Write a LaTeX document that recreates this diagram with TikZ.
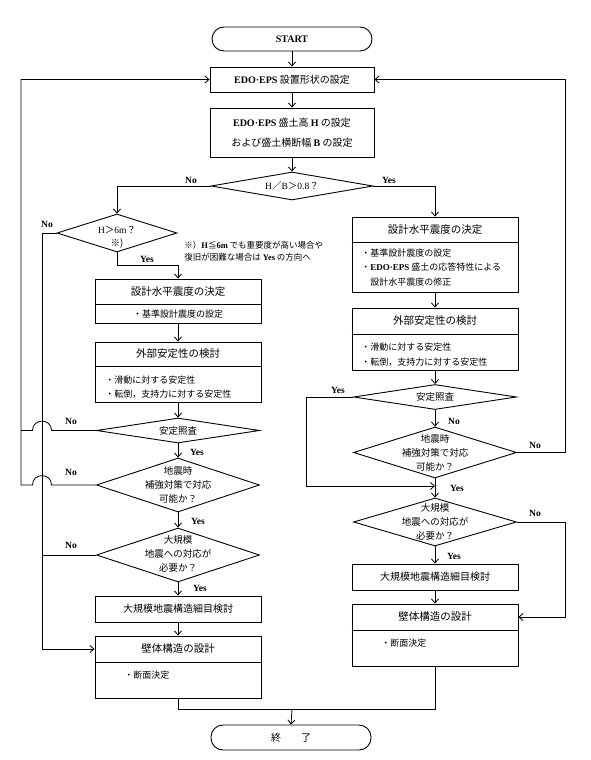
\documentclass[tikz,border=0pt]{standalone}
\usepackage{fontspec}
\setmainfont{Noto Sans CJK JP}
\newfontfamily\lat{Liberation Serif}
\usetikzlibrary{arrows.meta,shapes.geometric}
\begin{document}
\begin{tikzpicture}[x=1pt,y=-1pt,
 line width=0.8pt,
 box/.style={draw, rectangle, inner sep=0pt, line width=0.9pt, font=\fontsize{10}{12}\selectfont},
 term/.style={draw, rectangle, rounded corners=12pt, inner sep=0pt, line width=0.9pt, minimum width=160pt, minimum height=24pt},
 dia/.style={draw, diamond, inner sep=0pt, line width=0.9pt},
 ttl/.style={inner sep=0pt, font=\fontsize{10.5}{12}\selectfont},
 itm/.style={inner sep=0pt, anchor=west, font=\fontsize{9}{11}\selectfont},
 dtx/.style={inner sep=0pt, font=\fontsize{9.5}{11}\selectfont},
 lbl/.style={inner sep=0pt, font=\lat\bfseries\fontsize{9.5}{11}\selectfont},
 note/.style={inner sep=0pt, anchor=west, font=\fontsize{8.5}{10}\selectfont},
 arr/.style={-{Straight Barb[length=4pt,width=7pt]}},
]
\fill[white] (0,0) rectangle (591,760);
\useasboundingbox (0,0) rectangle (591,760);

% ---- top ----
\node[term] (start) at (292,39) {\lat\bfseries\fontsize{10}{12}\selectfont START};
\node[box, minimum width=164pt, minimum height=25pt] (e1) at (292,79.5) {{\lat\bfseries EDO·EPS} 設置形状の設定};
\node[box, minimum width=164pt, minimum height=49pt] (e2) at (292,132.5) {};
\node[inner sep=0pt, font=\fontsize{10}{12}\selectfont] (e2a) at (292,122.5) {{\lat\bfseries EDO·EPS} 盛土高 {\lat\bfseries H} の設定};
\node[inner sep=0pt, font=\fontsize{10}{12}\selectfont] (e2b) at (292,143) {および盛土横断幅 {\lat\bfseries B} の設定};
\node[dia, minimum width=162pt, minimum height=28pt] (hb) at (292,186) {};
\node[dtx] (hbt) at (292,186) {{\lat H}／{\lat B}＞{\lat 0.8}？};
\node[lbl] (hbno) at (191,180) {No};
\node[lbl] (hbyes) at (389,180) {Yes};

% ---- left column ----
\node[dia, minimum width=120pt, minimum height=38pt] (h6) at (117,233) {};
\node[dtx] (h6t1) at (117,230) {{\lat H}＞{\lat 6m}？};
\node[dtx] (h6t2) at (117,243.5) {※)};
\node[lbl] (h6no) at (47,224) {No};
\node[lbl] (h6yes) at (147,259) {Yes};
\node[note] (n1) at (184,245) {※）{\lat\bfseries H}≦{\lat\bfseries 6m} でも重要度が高い場合や};
\node[note] (n2) at (184,257.5) {復旧が困難な場合は {\lat\bfseries Yes} の方向へ};

\node[box, minimum width=166pt, minimum height=44pt] (la) at (178,301) {};
\draw[line width=0.9pt] (la.west |- 0,304) -- (la.east |- 0,304);
\node[ttl] (lat) at (178,292) {設計水平震度の決定};
\node[inner sep=0pt, font=\fontsize{9}{11}\selectfont] (lai) at (178,314) {・基準設計震度の設定};

\node[box, minimum width=166pt, minimum height=60pt] (lb) at (178,372) {};
\draw[line width=0.9pt] (lb.west |- 0,366) -- (lb.east |- 0,366);
\node[ttl] (lbt) at (178,354) {外部安定性の検討};
\node[itm] (lbi1) at (105,380) {・滑動に対する安定性};
\node[itm] (lbi2) at (105,394) {・転倒，支持力に対する安定性};

\node[dia, minimum width=163pt, minimum height=25pt] (d1) at (178,430.5) {};
\node[dtx] (d1t) at (178,430.5) {安定照査};
\node[lbl] (d1no) at (71,421) {No};
\node[lbl] (d1yes) at (197,452) {Yes};

\node[dia, minimum width=163pt, minimum height=54pt] (d2) at (178,485) {};
\node[dtx] (d2t1) at (178,471) {地震時};
\node[dtx] (d2t2) at (178,485) {補強対策で対応};
\node[dtx] (d2t3) at (178,499) {可能か？};
\node[lbl] (d2no) at (71,472) {No};
\node[lbl] (d2yes) at (198,521) {Yes};

\node[dia, minimum width=163pt, minimum height=54pt] (d3) at (178,555) {};
\node[dtx] (d3t1) at (178,540) {大規模};
\node[dtx] (d3t2) at (178,554) {地震への対応が};
\node[dtx] (d3t3) at (178,568) {必要か？};
\node[lbl] (d3no) at (71,545) {No};
\node[lbl] (d3yes) at (200,588) {Yes};

\node[box, minimum width=166pt, minimum height=26pt] (lc) at (178,609) {大規模地震構造細目検討};

\node[box, minimum width=166pt, minimum height=62pt] (le) at (178,667) {};
\draw[line width=0.9pt] (le.west |- 0,662) -- (le.east |- 0,662);
\node[ttl] (let) at (178,649) {壁体構造の設計};
\node[itm] (lei) at (124,675) {・断面決定};

% ---- right column ----
\node[box, minimum width=166pt, minimum height=75pt] (rg) at (435,254.5) {};
\draw[line width=0.9pt] (rg.west |- 0,242) -- (rg.east |- 0,242);
\node[ttl] (rgt) at (435,229.5) {設計水平震度の決定};
\node[itm] (rgi1) at (361,253) {・基準設計震度の設定};
\node[itm] (rgi2) at (361,267.5) {・{\lat\bfseries EDO·EPS} 盛土の応答特性による};
\node[itm] (rgi3) at (370,282) {設計水平震度の修正};

\node[box, minimum width=166pt, minimum height=62pt] (rh) at (435,339) {};
\draw[line width=0.9pt] (rh.west |- 0,334) -- (rh.east |- 0,334);
\node[ttl] (rht) at (435,321) {外部安定性の検討};
\node[itm] (rhi1) at (361,347) {・滑動に対する安定性};
\node[itm] (rhi2) at (361,362) {・転倒，支持力に対する安定性};

\node[dia, minimum width=163pt, minimum height=25pt] (d4) at (435,397) {};
\node[dtx] (d4t) at (435,397) {安定照査};
\node[lbl] (d4yes) at (338,390) {Yes};
\node[lbl] (d4no) at (454,421) {No};

\node[dia, minimum width=163pt, minimum height=51pt] (d5) at (435,452.5) {};
\node[dtx] (d5t1) at (435,438.5) {地震時};
\node[dtx] (d5t2) at (435,452.5) {補強対策で対応};
\node[dtx] (d5t3) at (435,466.5) {可能か？};
\node[lbl] (d5no) at (535,445) {No};
\node[lbl] (d5yes) at (457,488) {Yes};

\node[dia, minimum width=163pt, minimum height=48pt] (d6) at (435,522) {};
\node[dtx] (d6t1) at (435,508) {大規模};
\node[dtx] (d6t2) at (435,522) {地震への対応が};
\node[dtx] (d6t3) at (435,535.5) {必要か？};
\node[lbl] (d6no) at (535,513) {No};
\node[lbl] (d6yes) at (454,556) {Yes};

\node[box, minimum width=166pt, minimum height=26pt] (ri) at (435,577) {大規模地震構造細目検討};

\node[box, minimum width=166pt, minimum height=62pt] (rf) at (435,635) {};
\draw[line width=0.9pt] (rf.west |- 0,630) -- (rf.east |- 0,630);
\node[ttl] (rft) at (435,617) {壁体構造の設計};
\node[itm] (rfi) at (381,643) {・断面決定};

\node[term, minimum height=25pt] (end) at (291,737.5) {\fontsize{10}{12}\selectfont 終\hspace{2em}了};

% ---- connectors ----
\draw[arr] (start) -- (e1);
\draw[arr] (e1) -- (e2);
\draw[arr] (e2) -- (hb);
\draw[arr] (hb.west) -| (h6.north);
\draw[arr] (h6.south) -- (117,265) -| (la.north);
\draw[arr] (la) -- (lb);
\draw[arr] (lb) -- (d1);
\draw[arr] (d1) -- (d2);
\draw[arr] (d2) -- (d3);
\draw[arr] (d3) -- (lc);
\draw[arr] (lc) -- (le);
\draw[arr] (h6.west) -- (42,233) -- (42,649) -- (le.west |- 42,649);
\draw (d3.west) -- (42,555);
\draw[arr] (d1.west) -- (51.5,430.5) .. controls (51.5,418) and (32.5,418) .. (32.5,430.5) -- (21,430.5) -- (21,79.5) -- (e1.west);
\draw (d2.west) -- (51.5,485) .. controls (51.5,472.5) and (32.5,472.5) .. (32.5,485) -- (21,485) -- (21,430.5);

\draw[arr] (hb.east) -| (rg.north);
\draw[arr] (rg) -- (rh);
\draw[arr] (rh) -- (d4);
\draw[arr] (d4) -- (d5);
\draw[arr] (d5) -- (d6);
\draw[arr] (d6) -- (ri);
\draw[arr] (ri) -- (rf);
\draw[arr] (d4.west) -- (306,397) -- (306,486) -- (435,486);
\draw[arr] (d5.east) -- (565,452.5) -- (565,79.5) -- (e1.east);
\draw[arr] (d6.east) -- (565,522) -- (565,617) -- (rf.east |- 565,617);

\coordinate (m) at (292,709);
\draw (le.south) -- (178,709) -- (435,709) -- (rf.south);
\draw[arr] (m) -- (end.north);
\end{tikzpicture}
\end{document}
